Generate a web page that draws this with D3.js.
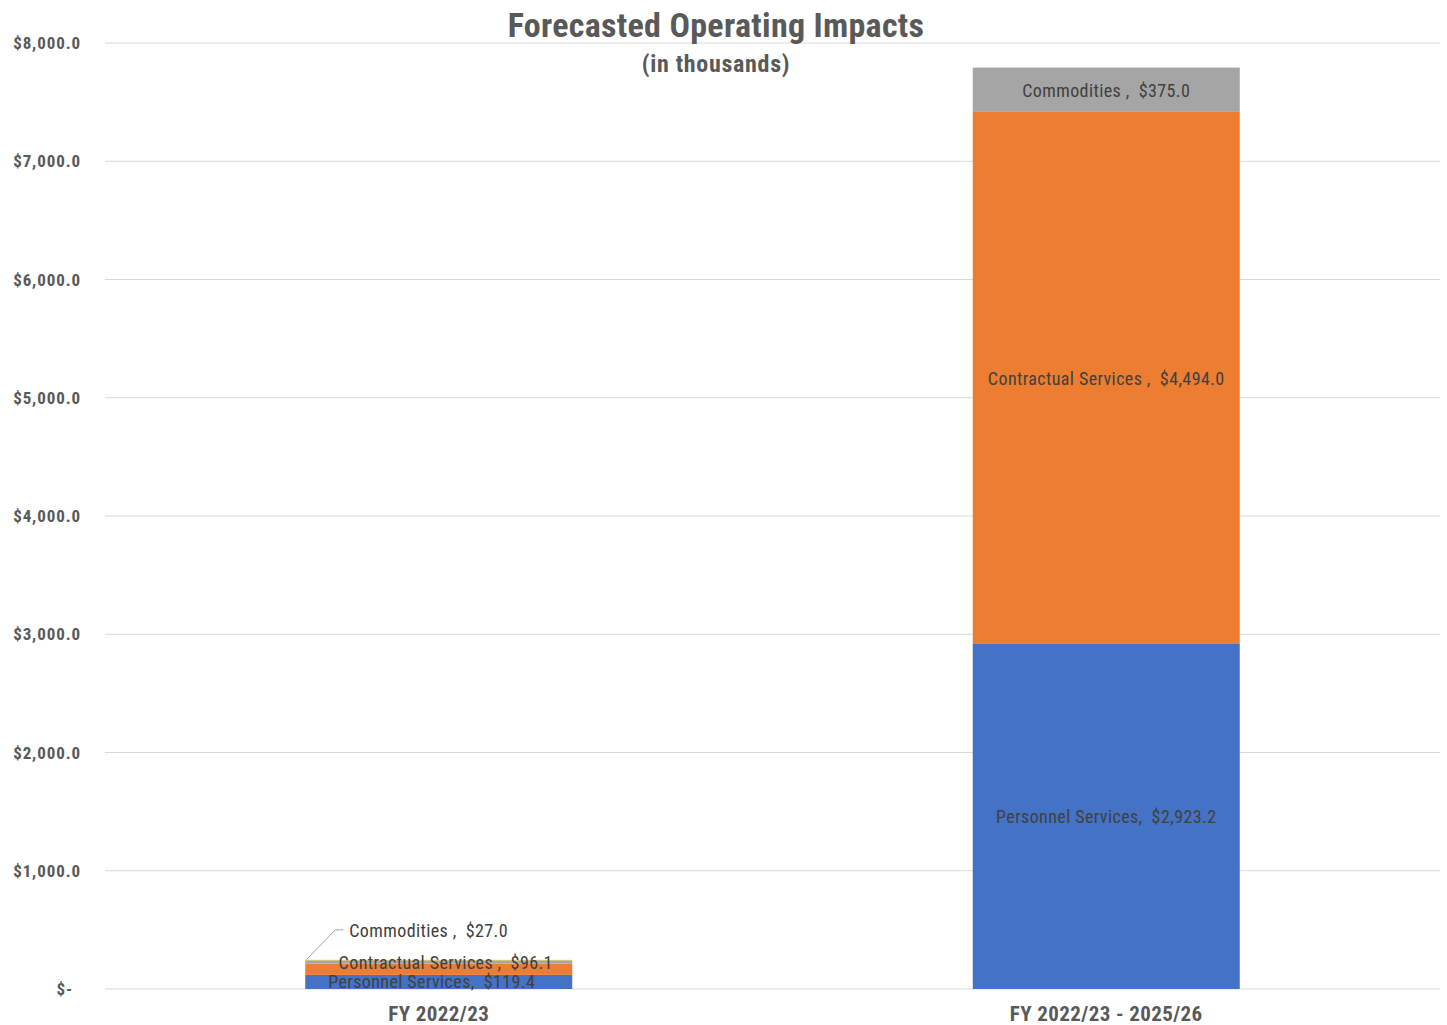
<!DOCTYPE html>
<html lang="en">
<head>
<meta charset="UTF-8" />
<title>Forecasted Operating Impacts</title>
<script src="https://d3js.org/d3.v7.min.js"></script>
<style>
  body { margin: 0; background: #fff; }
  text { font-family: "Roboto Condensed", "Liberation Sans Narrow", Roboto, sans-serif; white-space: pre; }
  .grid line { stroke: #d9d9d9; stroke-width: 1; }
  .tick-label { fill: #595959; font-weight: bold; font-size: 17px; letter-spacing: 0.9px; }
  .cat-label { fill: #595959; font-weight: bold; font-size: 21px; letter-spacing: 0.4px; }
  .data-label { fill: #404040; font-size: 18px; letter-spacing: 0.4px; }
</style>
</head>
<body>
<svg id="chart" width="1447" height="1025"></svg>
<script>
// data (thousands of dollars)
const categories = ["FY 2022/23", "FY 2022/23 - 2025/26"];
const seriesNames = ["Personnel Services", "Contractual Services", "Commodities", "Other"];
const personnel = [119.4, 2923.2];
const contractual = [96.1, 4494.0];
const commodities = [27.0, 375.0];
const other = [4.0, 0];
const yTicks = [0, 1000, 2000, 3000, 4000, 5000, 6000, 7000, 8000];
const colors = ["#4472c4", "#ed7d31", "#a5a5a5", "#ffc000"];
const labelNames = ["Personnel Services,", "Contractual Services ,", "Commodities ,", null];

const svg = d3.select("#chart");
const margin = { left: 105, right: 7, top: 43, bottom: 36 };
const width = 1447, height = 1025;

const rows = categories.map((c, i) => ({
  cat: c,
  "Personnel Services": personnel[i],
  "Contractual Services": contractual[i],
  "Commodities": commodities[i],
  "Other": other[i]
}));
const stacked = d3.stack().keys(seriesNames)(rows);

const x = d3.scaleBand()
  .domain(categories)
  .range([margin.left, width - margin.right])
  .paddingInner(0.6)
  .paddingOuter(0.3);

const y = d3.scaleLinear()
  .domain([0, 8000])
  .range([height - margin.bottom, margin.top]);

// gridlines
svg.append("g").attr("class", "grid")
  .selectAll("line").data(yTicks).enter().append("line")
  .attr("x1", margin.left).attr("x2", width - margin.right)
  .attr("y1", d => y(d)).attr("y2", d => y(d));

const fmt = d3.format(",.1f");
svg.append("g").selectAll("text").data(yTicks).enter().append("text")
  .attr("class", "tick-label")
  .attr("x", d => d === 0 ? 73 : 81)
  .attr("y", d => y(d) + 6)
  .attr("text-anchor", "end")
  .text(d => d === 0 ? "$-" : "$" + fmt(d));

// bars
svg.append("g").selectAll("g").data(stacked).enter().append("g")
  .attr("fill", (d, i) => colors[i])
  .selectAll("rect").data(d => d).enter().append("rect")
  .attr("x", d => x(d.data.cat))
  .attr("width", x.bandwidth())
  .attr("y", d => y(d[1]))
  .attr("height", d => y(d[0]) - y(d[1]));

// category labels
svg.append("g").selectAll("text").data(categories).enter().append("text")
  .attr("class", "cat-label")
  .attr("x", d => x(d) + x.bandwidth() / 2)
  .attr("y", 1021)
  .attr("text-anchor", "middle")
  .text(d => d);

// data labels
const money = v => "$" + fmt(v);
const big = categories[1];
stacked.forEach((s, i) => {
  if (!labelNames[i]) return;
  const d = s[1];
  svg.append("text").attr("class", "data-label")
    .attr("x", x(big) + x.bandwidth() / 2)
    .attr("y", (y(d[0]) + y(d[1])) / 2 + 7)
    .attr("text-anchor", "middle")
    .text(labelNames[i] + "  " + money(d[1] - d[0]));
});

// small bar labels (overlapping, as in original)
const small = categories[0];
const s0 = stacked.map(s => s[0]);
svg.append("text").attr("class", "data-label")
  .attr("x", x(small) + x.bandwidth() / 2 - 7)
  .attr("y", (y(s0[0][0]) + y(s0[0][1])) / 2 + 6)
  .attr("text-anchor", "middle")
  .text(labelNames[0] + "  " + money(personnel[0]));
svg.append("text").attr("class", "data-label")
  .attr("x", x(small) + x.bandwidth() / 2 + 7)
  .attr("y", (y(s0[1][0]) + y(s0[1][1])) / 2)
  .attr("text-anchor", "middle")
  .text(labelNames[1] + "  " + money(contractual[0]));
// commodities label with leader line
const topY = y(s0[3][1]);
svg.append("polyline")
  .attr("points", [[x(small) + 1, topY], [x(small) + 30, topY - 30], [x(small) + 38, topY - 30]].join(" "))
  .attr("fill", "none").attr("stroke", "#a6a6a6").attr("stroke-width", 1);
svg.append("text").attr("class", "data-label")
  .attr("x", x(small) + 44)
  .attr("y", topY - 23)
  .text(labelNames[2] + "  " + money(commodities[0]));

// title
svg.append("text")
  .attr("x", 716).attr("y", 37)
  .attr("text-anchor", "middle")
  .attr("fill", "#595959").attr("font-weight", "bold").attr("font-size", "34px")
  .attr("letter-spacing", "0.3px")
  .text("Forecasted Operating Impacts");
svg.append("text")
  .attr("x", 716).attr("y", 72)
  .attr("text-anchor", "middle")
  .attr("fill", "#595959").attr("font-weight", "bold").attr("font-size", "24px")
  .attr("letter-spacing", "0.7px")
  .text("(in thousands)");
</script>
</body>
</html>
